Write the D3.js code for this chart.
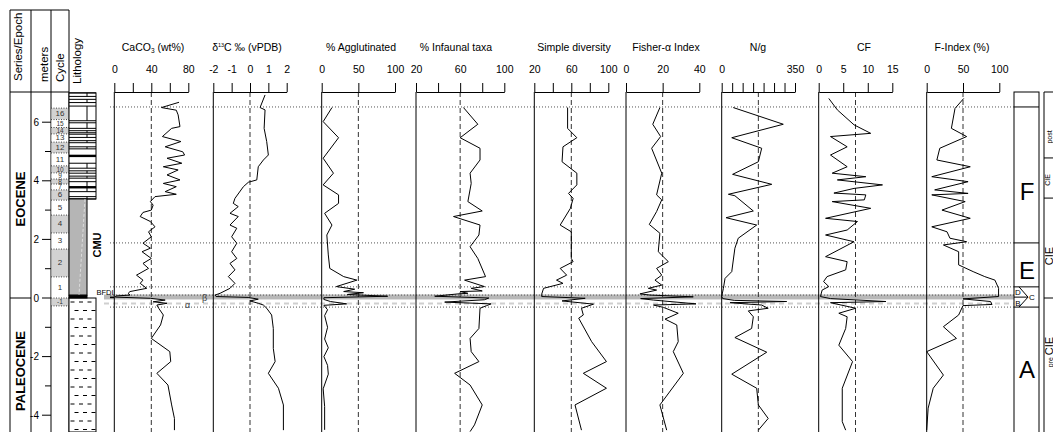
<!DOCTYPE html>
<html>
<head>
<meta charset="utf-8">
<script src="https://cdn.jsdelivr.net/npm/d3@7"></script>
<style>
  body { margin: 0; background: #fff; }
  svg { display: block; font-family: 'Liberation Sans', Arial, sans-serif; }
</style>
</head>
<body>
<svg id="chart" width="1053" height="432"></svg>
<script>
// ---- data: [depth (m), value] ----
const caco3 = [[6.68,70],[6.50,51],[6.41,67],[6.25,69],[5.85,71],[5.79,62],[5.51,52],[5.34,72],[5.16,55],[4.99,74],[4.88,76],[4.77,57],[4.60,73],[4.48,53],[4.37,69],[4.20,57],[4.03,71],[3.91,53],[3.80,67],[3.63,55],[3.54,67],[3.46,44],[3.29,39],[3.17,42],[3.00,40],[2.92,31],[2.78,28],[2.61,39],[2.43,44],[2.26,37],[2.09,40],[1.87,31],[1.70,39],[1.58,30],[1.35,40],[1.18,31],[1.01,37],[0.78,24],[0.61,31],[0.50,28],[0.33,35],[0.22,17],[0.16,15],[0.10,17],[0.07,2],[0.03,1],[-0.01,39],[-0.07,55],[-0.13,42],[-0.18,57],[-0.24,46],[-0.35,48],[-0.58,53],[-0.92,50],[-1.38,40],[-1.83,60],[-2.17,61],[-2.57,46],[-2.97,58],[-3.65,62],[-4.11,65],[-4.51,65]];
const d13c = [[6.93,0.82],[6.50,0.55],[6.42,0.82],[5.79,0.77],[5.34,0.91],[4.88,1.0],[4.71,0.73],[4.48,0.45],[4.03,0.37],[3.95,-0.09],[3.80,-0.36],[3.40,-0.82],[3.23,-0.91],[3.12,-0.64],[2.89,-1.09],[2.78,-0.64],[2.49,-1.09],[2.38,-0.72],[2.09,-1.0],[1.87,-0.72],[1.58,-1.0],[1.35,-0.72],[1.18,-1.09],[0.96,-0.82],[0.73,-1.18],[0.50,-0.82],[0.33,-1.09],[0.16,-1.63],[0.10,-1.9],[0.05,-1.85],[0.02,-0.1],[-0.04,0.45],[-0.10,0.0],[-0.18,0.45],[-0.24,0.73],[-0.35,0.91],[-0.58,1.18],[-1.04,1.27],[-1.72,1.27],[-2.17,1.37],[-2.57,1.0],[-3.08,1.55],[-3.65,1.82],[-4.51,1.82]];
const agglut = [[6.50,14],[6.02,2],[5.47,23],[4.77,2],[4.26,16],[3.86,2],[3.52,23],[3.23,23],[2.89,4],[2.49,14],[2.15,7],[1.47,9],[1.01,11],[0.73,30],[0.61,48],[0.39,20],[0.30,45],[0.22,30],[0.18,57],[0.12,35],[0.06,90],[0.01,3],[-0.05,3],[-0.12,12],[-0.20,34],[-0.25,3],[-0.40,8],[-0.60,4],[-1.00,8],[-1.40,4],[-1.70,9],[-2.00,3],[-2.30,8],[-2.60,9],[-3.10,2],[-3.70,4],[-4.50,4]];
const infaunal = [[6.50,63],[5.93,76],[5.47,60],[5.11,78],[4.71,78],[4.26,69],[3.91,70],[3.29,67],[2.97,80],[2.78,54],[2.49,78],[2.15,77],[1.75,69],[1.35,76],[0.73,83],[0.61,64],[0.39,82],[0.33,70],[0.24,80],[0.22,60],[0.16,67],[0.14,58],[0.06,37],[0.0,86],[-0.06,82],[-0.14,46],[-0.20,88],[-0.26,84],[-0.35,78],[-1.04,77],[-1.38,69],[-1.83,70],[-2.17,77],[-2.57,55],[-2.97,69],[-3.65,80],[-4.33,73],[-4.56,69]];
const diversity = [[6.50,56],[5.79,56],[5.47,66],[5.16,51],[4.65,50],[4.26,66],[3.86,66],[3.57,57],[3.40,62],[3.06,59],[2.49,48],[2.26,60],[1.35,60],[1.24,62],[1.01,48],[0.78,55],[0.61,44],[0.50,51],[0.33,30],[0.13,28],[0.05,28],[-0.01,75],[-0.10,50],[-0.21,84],[-0.35,71],[-0.58,73],[-0.69,68],[-1.49,82],[-2.17,98],[-2.57,73],[-3.08,98],[-3.65,64],[-4.51,71]];
const fisher = [[6.50,18.5],[5.93,14.6],[5.51,18.9],[5.11,14],[4.26,19.5],[3.52,16.7],[3.35,19.5],[2.95,16.7],[2.51,12.7],[2.21,18.5],[1.58,17.6],[1.24,23.1],[1.01,16.7],[0.78,19.5],[0.61,15.8],[0.44,19.5],[0.33,12.2],[0.27,16.7],[0.14,7.6],[0.10,13.1],[0.04,36.7],[-0.02,8],[-0.07,14.9],[-0.20,38.2],[-0.24,15],[-0.32,20.4],[-0.52,28.5],[-0.72,21.3],[-0.92,27.7],[-1.49,28.5],[-1.83,25.8],[-2.57,31.3],[-3.65,18.5],[-4.51,22.2]];
const ng = [[6.50,55],[5.93,294],[5.47,48],[5.11,191],[4.65,175],[4.22,52],[3.88,239],[3.54,32],[3.49,63],[2.97,151],[2.74,21],[2.49,167],[2.04,79],[1.70,63],[0.90,48],[0.67,16],[0.33,8],[0.05,0],[-0.02,5],[-0.08,60],[-0.12,310],[-0.16,40],[-0.24,190],[-0.35,222],[-0.44,127],[-0.64,151],[-1.04,143],[-1.35,63],[-1.85,215],[-2.60,48],[-3.08,167],[-3.65,175],[-4.11,222],[-4.51,175]];
const cf = [[6.81,2.06],[6.42,3.8],[5.91,7.2],[5.62,10.6],[5.51,2.4],[5.16,5.8],[4.88,2.4],[4.48,5.8],[4.26,2.75],[4.14,9.6],[4.03,3.8],[3.86,13],[3.74,7.2],[3.58,3.1],[3.52,9.6],[3.35,9.3],[3.29,2.75],[3.06,10.6],[2.72,1.4],[2.61,7.9],[2.32,5.8],[2.15,1.4],[1.92,7.2],[1.41,1.4],[1.24,5.8],[0.96,5.5],[0.73,1.7],[0.56,1.0],[0.39,2.06],[0.27,0.7],[0.05,0.35],[-0.02,2.4],[-0.12,13.7],[-0.16,2.4],[-0.35,7.55],[-0.52,4.1],[-0.64,5.8],[-1.04,5.5],[-1.61,4.1],[-2.17,6.9],[-3.08,4.8],[-4.22,4.8],[-4.51,5.5]];
const findex = [[6.81,51],[6.47,39],[5.79,34],[5.51,55],[5.11,18],[4.71,14],[4.48,60],[4.14,7],[3.97,57],[3.69,11],[3.57,57],[3.52,7],[3.29,53],[3.00,21],[2.72,60],[2.43,7],[2.26,28],[2.04,32],[1.92,55],[1.81,23],[1.58,44],[1.13,44],[0.90,64],[0.73,80],[0.61,94],[0.33,99],[0.05,99],[-0.03,50],[-0.12,88],[-0.22,90],[-0.26,50],[-0.58,44],[-0.98,23],[-1.38,41],[-1.83,0],[-2.63,23],[-3.08,9],[-3.76,2],[-4.51,0]];

// ---- tick values / labels ----
const depthTicks = [-4,-3,-2,-1,0,1,2,3,4,5,6];
const depthLabels = [-4,-2,0,2,4,6];
const caco3Ticks = [0,20,40,60,80],  caco3Labels = [0,40,80];
const d13cTicks = [-2,-1,0,1,2],     d13cLabels = [-2,-1,0,1,2];
const agglutTicks = [0,50,100],      agglutLabels = [0,50,100];
const infaunalTicks = [20,40,60,80,100], infaunalLabels = [20,60,100];
const diversityTicks = [20,40,60,80,100], diversityLabels = [20,60,100];
const fisherTicks = [0,20,40],       fisherLabels = [0,20,40];
const ngTicks = [0,50,100,150,200,250,300,350], ngLabels = [0,350];
const cfTicks = [0,5,10,15],         cfLabels = [0,5,10,15];
const findexTicks = [0,50,100],      findexLabels = [0,50,100];

// ---- stratigraphy ----
const cycleBounds = [6.48,6.09,5.82,5.60,5.32,4.95,4.51,4.27,4.06,3.89,3.69,3.34,2.83,2.22,1.67,0.72,0,-0.27];
const cycleNames = ['16','15','14','13','12','11','10','9','8','7','6','5','4','3','2','1','-1'];
const bedLines = [7.0,6.88,6.78,6.67,6.55,6.05,5.98,5.79,5.71,5.64,5.59,5.48,5.37,5.30,5.16,5.09,4.60,4.43,4.34,4.26,4.16,4.09,3.97,3.63,3.46,3.38];
const darkBeds = [4.85,3.78];
const levelLines = [6.52,1.88,0.38,0.10,-0.31];   // dotted correlation lines
const zoneBounds = [6.52,1.88,0.38,0.03,-0.31];
const zoneLetters = ['F','E','A'];
const zoneLetterDepth = [3.65,0.95,-2.45];
const cieBounds = [4.78,3.41,0];

const svg = d3.select('#chart');
const yTop = 92, yBot = 432;
const y = d3.scaleLinear().domain([0, 6]).range([298, 122.2]);
const FONT = "'Liberation Sans', Arial, sans-serif";

function vtext(x, yc, str, size, opts = {}) {
  return svg.append('text')
    .attr('transform', `translate(${x},${yc}) rotate(-90)`)
    .attr('text-anchor', opts.anchor || 'middle')
    .attr('font-size', size)
    .attr('font-weight', opts.bold ? 'bold' : null)
    .attr('fill', opts.fill || '#000')
    .text(str);
}
function hline(g, x1, x2, yy) {
  return g.append('line').attr('x1', x1).attr('x2', x2).attr('y1', yy).attr('y2', yy);
}

// ---- background band / correlation lines ----
const bg = svg.append('g');
bg.append('rect').attr('x', 104).attr('width', 1014 - 104)
  .attr('y', y(0.12)).attr('height', y(-0.05) - y(0.12)).attr('fill', '#b8b8b8');
hline(bg, 104, 1014, y(-0.19)).attr('stroke', '#cfcfcf').attr('stroke-width', 2).attr('stroke-dasharray', '5,4');
levelLines.forEach(d => hline(bg, 110, 1014, y(d))
  .attr('stroke', '#555').attr('stroke-width', 1).attr('stroke-dasharray', '1,2'));

// ---- left header columns ----
const hdr = svg.append('g').attr('stroke', '#000').attr('stroke-width', 1);
[10, 31, 51, 69].forEach(x => hdr.append('line').attr('x1', x).attr('x2', x).attr('y1', 10).attr('y2', yBot));
hline(hdr, 10, 69, 10);
hline(hdr, 10, 69, yTop);
hline(hdr, 10, 31, y(0));

vtext(22, 81, 'Series/Epoch', 11.5, { anchor: 'start' });
vtext(47.5, 82, 'meters', 11.5, { anchor: 'start' });
vtext(64, 82, 'Cycle', 11.5, { anchor: 'start' });
vtext(81, 84, 'Lithology', 11.5, { anchor: 'start' });
vtext(25, 199, 'EOCENE', 13, { bold: true });
vtext(25, 371, 'PALEOCENE', 13, { bold: true });

// meters axis
depthTicks.forEach(d => {
  const major = depthLabels.includes(d);
  svg.append('line').attr('x1', major ? 42 : 45).attr('x2', 51)
    .attr('y1', y(d)).attr('y2', y(d)).attr('stroke', '#000');
  if (major) svg.append('text').attr('x', 39).attr('y', y(d) + 3.5)
    .attr('text-anchor', 'end').attr('font-size', 10).text(d);
});

// cycles
const cyc = svg.append('g');
cycleNames.forEach((name, i) => {
  const t = y(cycleBounds[i]), b = y(cycleBounds[i + 1]);
  const even = Math.abs(+name) % 2 === 0 || name === '-1';
  cyc.append('rect').attr('x', 51.5).attr('width', 17).attr('y', t).attr('height', b - t)
    .attr('fill', even ? '#d2d2d2' : '#fff');
  cyc.append('text').attr('x', 60).attr('y', (t + b) / 2 + 2.4).attr('text-anchor', 'middle')
    .attr('font-size', b - t < 8 ? 6.5 : 8).attr('fill', '#333').text(name);
});
cycleBounds.forEach(d => hline(cyc, 51, 69, y(d)).attr('stroke', '#444').attr('stroke-dasharray', '1,1.5'));

// lithology
const defs = svg.append('defs');
const pat = defs.append('pattern').attr('id', 'marl').attr('patternUnits', 'userSpaceOnUse')
  .attr('x', 69).attr('y', y(0)).attr('width', 27).attr('height', 17);
pat.append('rect').attr('width', 27).attr('height', 17).attr('fill', '#fff');
[[1.5, 5.5, 4], [10, 14, 4], [18.5, 22.5, 4], [5.5, 9.5, 12.5], [14, 18, 12.5], [22.5, 26.5, 12.5]]
  .forEach(s => pat.append('line').attr('x1', s[0]).attr('x2', s[1]).attr('y1', s[2]).attr('y2', s[2])
    .attr('stroke', '#000').attr('stroke-width', 1));

const lith = svg.append('g').attr('stroke', '#000').attr('stroke-width', 1);
lith.append('rect').attr('x', 69).attr('width', 27).attr('y', y(7.0)).attr('height', y(3.38) - y(7.0)).attr('fill', '#fff');
bedLines.forEach(d => hline(lith, 69, 96, y(d)));
bedLines.slice(0, -1).forEach((d, i) => {
  if (i % 2 === 0) lith.append('line').attr('x1', 87).attr('x2', 87)
    .attr('y1', y(d)).attr('y2', y(bedLines[i + 1]));
});
darkBeds.forEach(d => lith.append('rect').attr('x', 69).attr('width', 27)
  .attr('y', y(d) - 1.2).attr('height', 2.4).attr('fill', '#000').attr('stroke', 'none'));
lith.append('rect').attr('x', 69).attr('width', 18).attr('y', y(3.38)).attr('height', y(0.10) - y(3.38)).attr('fill', '#b5b5b5');
lith.append('line').attr('x1', 85).attr('x2', 79).attr('y1', y(3.38)).attr('y2', y(0.10))
  .attr('stroke', '#e6e6e6').attr('stroke-width', 0.8).attr('stroke-dasharray', '3,2');
lith.append('rect').attr('x', 69).attr('width', 27).attr('y', y(0)).attr('height', yBot - y(0)).attr('fill', 'url(#marl)');
lith.append('rect').attr('x', 69).attr('width', 18).attr('y', y(0.09)).attr('height', y(0) - y(0.09)).attr('fill', '#000');
hline(lith, 110, 114, y(0.02)).attr('stroke-width', 1.6);

vtext(101, 245, 'CMU', 11, { bold: true });
svg.append('text').attr('x', 96.5).attr('y', 295).attr('font-size', 7.5).text('BFDI');
svg.append('text').attr('x', 202).attr('y', 300.5).attr('font-size', 9).attr('fill', '#444').text('β');
svg.append('text').attr('x', 185).attr('y', 308).attr('font-size', 9).attr('fill', '#444').text('α');

// ---- data panels ----
const panels = [
  { data: caco3, domain: [0, 80], range: [114.3, 188.3], ticks: caco3Ticks, labels: caco3Labels, ref: 40, tx: 153,
    title: [['CaCO'], ['3', 6.5, 2], [' (wt%)', null, -2]] },
  { data: d13c, domain: [-2, 2], range: [213.3, 286.7], ticks: d13cTicks, labels: d13cLabels, ref: 0, tx: 247,
    title: [['δ'], ['13', 5.5, -4], ['C ‰ (vPDB)', null, 4]] },
  { data: agglut, domain: [0, 100], range: [321.7, 395], ticks: agglutTicks, labels: agglutLabels, ref: 50, tx: 361,
    title: [['% Agglutinated']] },
  { data: infaunal, domain: [20, 100], range: [416, 504.3], ticks: infaunalTicks, labels: infaunalLabels, ref: 60, tx: 456,
    title: [['% Infaunal taxa']] },
  { data: diversity, domain: [20, 100], range: [534.3, 608.3], ticks: diversityTicks, labels: diversityLabels, ref: 60, tx: 574,
    title: [['Simple diversity']] },
  { data: fisher, domain: [0, 40], range: [626, 699.3], ticks: fisherTicks, labels: fisherLabels, ref: 20, tx: 666,
    title: [['Fisher-α Index']] },
  { data: ng, domain: [0, 350], range: [721.7, 795], ticks: ngTicks, labels: ngLabels, ref: 175, tx: 758,
    title: [['N/g']] },
  { data: cf, domain: [0, 15], range: [818.7, 892.3], ticks: cfTicks, labels: cfLabels, ref: 7.5, tx: 864,
    title: [['CF']] },
  { data: findex, domain: [0, 100], range: [926.7, 999.3], ticks: findexTicks, labels: findexLabels, ref: 50, tx: 962,
    title: [['F-Index (%)']] }
];

panels.forEach(p => {
  const x = d3.scaleLinear().domain(p.domain).range(p.range);
  const g = svg.append('g');

  g.append('line').attr('x1', x(p.domain[0])).attr('x2', x(p.domain[0]))
    .attr('y1', yTop).attr('y2', yBot).attr('stroke', '#000');
  g.append('line').attr('x1', x(p.ref)).attr('x2', x(p.ref))
    .attr('y1', yTop).attr('y2', yBot).attr('stroke', '#333').attr('stroke-dasharray', '5,3');

  const axis = d3.axisTop(x).tickValues(p.ticks).tickSize(9).tickSizeOuter(0).tickPadding(10)
    .tickFormat(v => p.labels.includes(v) ? String(v) : '');
  const ag = g.append('g').attr('transform', `translate(0,${yTop})`).call(axis)
    .attr('font-family', FONT).attr('font-size', 10.5);
  ag.select('.domain').attr('stroke', '#000');
  ag.selectAll('.tick line').attr('stroke', '#000');
  ag.selectAll('.tick text').attr('fill', '#000');

  const t = g.append('text').attr('x', p.tx).attr('y', 51).attr('text-anchor', 'middle').attr('font-size', 10.5);
  p.title.forEach(s => {
    const ts = t.append('tspan').text(s[0]);
    if (s[1]) ts.attr('font-size', s[1]);
    if (s[2]) ts.attr('dy', s[2]);
  });

  const line = d3.line().x(d => x(d[1])).y(d => y(d[0]));
  g.append('path').datum(p.data).attr('d', line)
    .attr('fill', 'none').attr('stroke', '#000').attr('stroke-width', 1);
});

// ---- zone columns (right) ----
const zc = svg.append('g').attr('stroke', '#000').attr('stroke-width', 1).attr('fill', 'none');
zc.append('rect').attr('x', 1014).attr('y', yTop).attr('width', 25).attr('height', yBot - yTop + 2);
[0, 1, 2, 4].forEach(i => hline(zc, 1014, 1039, y(zoneBounds[i])));
zc.append('path').attr('d', d3.line()([[1019, y(zoneBounds[2])], [1028, y(zoneBounds[3])], [1019, y(zoneBounds[4])]]));
hline(zc, 1014, 1028, y(zoneBounds[3]));
zoneLetters.forEach((z, i) => svg.append('text').attr('x', 1027).attr('y', y(zoneLetterDepth[i]) + 8.5)
  .attr('text-anchor', 'middle').attr('font-size', 24).text(z));
[['D', 1018, 0.22], ['C', 1032, 0.03], ['B', 1018, -0.16]].forEach(s =>
  svg.append('text').attr('x', s[1]).attr('y', y(s[2]) + 3).attr('text-anchor', 'middle')
    .attr('font-size', 8).text(s[0]));

zc.append('line').attr('x1', 1044).attr('x2', 1044).attr('y1', yTop).attr('y2', yBot);
hline(zc, 1044, 1060, yTop);
cieBounds.forEach(d => hline(zc, 1044, 1060, y(d)));
vtext(1052, 137, 'post', 7);
vtext(1050, 180, 'CIE', 7);
vtext(1052.5, 256, 'CIE', 11);
const pre = svg.append('text').attr('transform', `translate(1052.5,352) rotate(-90)`).attr('text-anchor', 'middle');
pre.append('tspan').attr('font-size', 7).text('pre ');
pre.append('tspan').attr('font-size', 11).text('CIE');
</script>
</body>
</html>
